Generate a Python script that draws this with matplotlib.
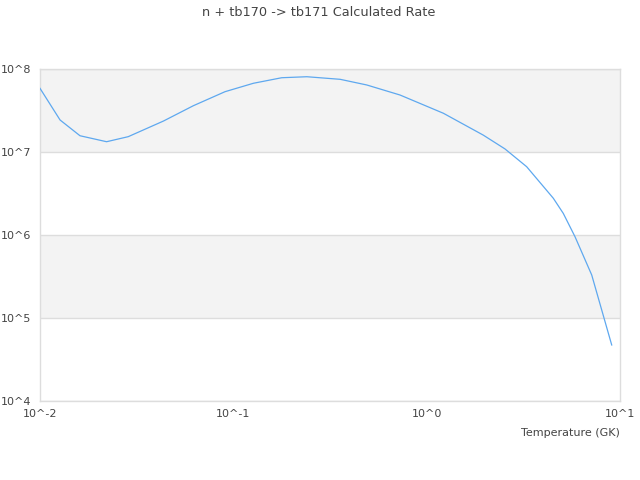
import matplotlib
matplotlib.use("Agg")
import matplotlib.pyplot as plt
from matplotlib.ticker import FixedLocator, NullLocator

temperature = [0.01, 0.0127, 0.0161, 0.0221, 0.0286, 0.0435, 0.0621, 0.0906,
               0.127, 0.178, 0.24, 0.357, 0.49, 0.728, 1.22, 1.96, 2.54,
               3.29, 4.52, 5.09, 5.85, 7.14, 9.06]
rate = [5.85e7, 2.43e7, 1.57e7, 1.33e7, 1.53e7, 2.36e7, 3.61e7, 5.33e7,
        6.73e7, 7.85e7, 8.07e7, 7.51e7, 6.42e7, 4.86e7, 2.93e7, 1.60e7, 1.09e7,
        6.65e6, 2.77e6, 1.82e6, 9.55e5, 3.30e5, 4.73e4]

x_ticks = [1e-2, 1e-1, 1e0, 1e1]
x_labels = ["10^-2", "10^-1", "10^0", "10^1"]
y_ticks = [1e4, 1e5, 1e6, 1e7, 1e8]
y_labels = ["10^4", "10^5", "10^6", "10^7", "10^8"]

fig = plt.figure(figsize=(6.4, 4.8), dpi=100)
ax = fig.add_axes([40/640, 1-401/480, 580/640, 332/480])
ax.set_xscale("log")
ax.set_yscale("log")
ax.set_xlim(1e-2, 1e1)
ax.set_ylim(1e4, 1e8)

# alternating bands
for i in range(len(y_ticks) - 1):
    if i % 2 == 1:
        ax.axhspan(y_ticks[i], y_ticks[i+1], color="#f3f3f3", zorder=0, lw=0)
for yt in y_ticks:
    ax.axhline(yt, color="#dddddd", lw=1, zorder=1)

ax.plot(temperature, rate, color="#5ea8ef", lw=0.9, zorder=3)

ax.xaxis.set_major_locator(FixedLocator(x_ticks))
ax.xaxis.set_minor_locator(NullLocator())
ax.yaxis.set_major_locator(FixedLocator(y_ticks))
ax.yaxis.set_minor_locator(NullLocator())
ax.set_xticklabels(x_labels)
ax.set_yticklabels(y_labels)
ax.tick_params(axis="x", length=0, labelsize=8, labelcolor="#444444", pad=6)
ax.tick_params(axis="y", length=0, labelsize=8, labelcolor="#444444", pad=6.5)
for s in ax.spines.values():
    s.set_color("#dddddd")
    s.set_linewidth(1)

ax.set_xlabel("Temperature (GK)", fontsize=8, color="#444444", loc="right")
ax.xaxis.set_label_coords(1.0, -0.08)
fig.text(319/640, 1-12/480, "n + tb170 -> tb171 Calculated Rate", ha="center",
         va="center", fontsize=9.3, color="#444444")

fig.savefig("out.png", dpi=100)
